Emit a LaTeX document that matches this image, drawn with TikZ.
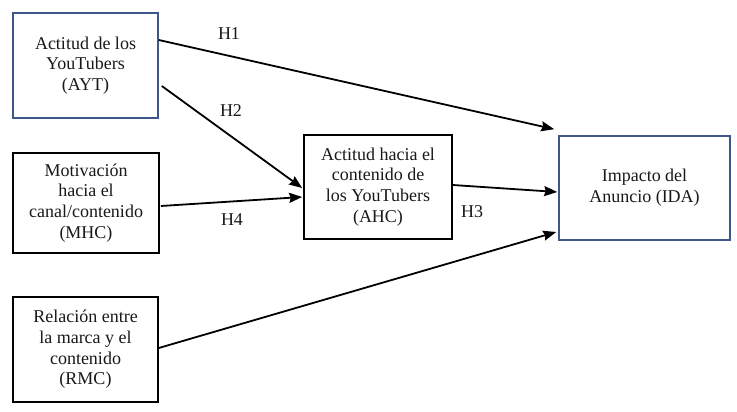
\documentclass[tikz,border=0pt]{standalone}
\usepackage{fontspec}
\setmainfont{Liberation Serif}
\usetikzlibrary{arrows.meta}
\definecolor{boxblue}{RGB}{62,86,138}
\definecolor{txt}{RGB}{25,25,25}
\tikzset{
  stdbox/.style={draw=black, line width=1.6pt, fill=white, align=center, inner sep=0pt, text=txt,
    font=\fontsize{18}{20.7}\selectfont},
  bluebox/.style={stdbox, draw=boxblue},
  arr/.style={line width=1.8pt, -{Stealth[length=13pt,width=10pt,inset=1.5pt]}},
  hlab/.style={text=txt, font=\fontsize{18}{20.7}\selectfont, inner sep=0pt}
}
\begin{document}
\begin{tikzpicture}[x=1pt,y=-1pt]
\useasboundingbox (0,0) rectangle (737,412);
\node[bluebox, minimum width=145pt, minimum height=105pt] (AYT) at (85.5,65.5) {Actitud de los\\YouTubers\\(AYT)};
\node[stdbox, minimum width=146pt, minimum height=100pt] (MHC) at (86,203) {Motivación\\hacia el\\canal/contenido\\(MHC)};
\node[stdbox, minimum width=145pt, minimum height=105pt] (RMC) at (85.5,349.5) {Relación entre\\la marca y el\\contenido\\(RMC)};
\node[stdbox, minimum width=148pt, minimum height=104pt] (AHC) at (378,187) {Actitud hacia el\\contenido de\\los YouTubers\\(AHC)};
\node[bluebox, minimum width=171pt, minimum height=104pt] (IDA) at (644.5,188) {Impacto del\\Anuncio (IDA)};

\draw[arr] ([yshift=25.5pt]AYT.east) -- ([xshift=-4pt,yshift=6pt]IDA.north west);
\draw[arr] ([xshift=3pt,yshift=-20.5pt]AYT.east) -- ([xshift=-1pt,yshift=-1pt]AHC.west);
\draw[arr] ([xshift=1pt,yshift=-3pt]MHC.east) -- ([xshift=-1pt,yshift=-10pt]AHC.west);
\draw[arr] ([yshift=2pt]AHC.east) -- ([xshift=-1pt,yshift=-4pt]IDA.west);
\draw[arr] ([yshift=1.5pt]RMC.east) -- ([xshift=-2pt,yshift=-44pt]IDA.west);

\node[hlab] (h1) at (229,34) {H1};
\node[hlab] (h2) at (231,111) {H2};
\node[hlab] (h4) at (232,220) {H4};
\node[hlab] (h3) at (472,212) {H3};
\end{tikzpicture}
\end{document}
